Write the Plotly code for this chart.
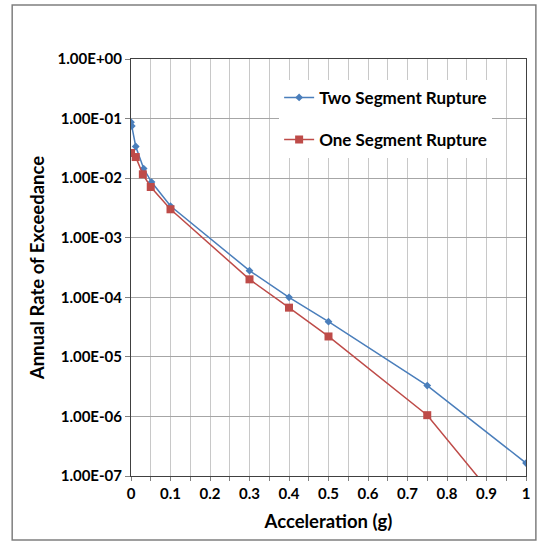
import plotly.graph_objects as go

# Hazard curves: annual rate of exceedance vs. peak ground acceleration
two_seg_accel = [0.0, 0.002, 0.012, 0.032, 0.052, 0.1, 0.3, 0.4, 0.5, 0.75, 1.0]
two_seg_rate = [0.087, 0.075, 0.034, 0.0145, 0.0086, 0.0034, 2.8e-4, 1.0e-4, 3.9e-5, 3.3e-6, 1.65e-7]

one_seg_accel = [0.0, 0.012, 0.03, 0.05, 0.1, 0.3, 0.4, 0.5, 0.75, 1.0]
one_seg_rate = [0.0264, 0.0226, 0.0116, 0.0071, 0.0030, 2.0e-4, 6.7e-5, 2.2e-5, 1.05e-6, 1.0e-8]

y_tick_vals = [1e0, 1e-1, 1e-2, 1e-3, 1e-4, 1e-5, 1e-6, 1e-7]
y_tick_text = ["1.00E+00", "1.00E-01", "1.00E-02", "1.00E-03",
               "1.00E-04", "1.00E-05", "1.00E-06", "1.00E-07"]
x_tick_vals = [i * 0.05 for i in range(21)]
x_tick_text = [("0" if i == 0 else ("1" if i == 20 else f"{i*0.05:.1f}")) if i % 2 == 0 else ""
               for i in range(21)]

BLUE = "#4A7EBB"
RED = "#BE4B48"
FONT = "Lato"

fig = go.Figure()
fig.add_trace(go.Scatter(
    x=two_seg_accel, y=two_seg_rate, mode="lines+markers",
    name="Two Segment Rupture", legendgroup="two",
    line=dict(color=BLUE, width=1.5),
    marker=dict(symbol="diamond", size=6, color=BLUE),
))
fig.add_trace(go.Scatter(
    x=one_seg_accel, y=one_seg_rate, mode="lines+markers",
    name="One Segment Rupture", legendgroup="one",
    line=dict(color=RED, width=1.5),
    marker=dict(symbol="square", size=8, color=RED),
))

fig.update_layout(
    width=542, height=549,
    margin=dict(l=131, r=12, t=59, b=73),
    paper_bgcolor="white", plot_bgcolor="white",
    font=dict(family=FONT, color="black"),
    showlegend=True,
    legend=dict(
        x=0.375, y=0.95, xanchor="left", yanchor="top",
        bgcolor="white", font=dict(family=FONT, size=17, color="black", weight="bold"),
        tracegroupgap=17, itemwidth=30, traceorder="grouped",
    ),
    xaxis=dict(
        range=[0, 1], tickvals=x_tick_vals, ticktext=x_tick_text,
        showgrid=True, gridcolor="#c8c8c8", gridwidth=1,
        ticks="outside", ticklen=4, tickcolor="#808080",
        showline=True, linecolor="#404040", linewidth=1, mirror=True,
        tickfont=dict(family=FONT, size=15, weight="bold"),
        title=dict(text="Acceleration (g)", font=dict(family=FONT, size=18.5, weight="bold"),
                   standoff=14),
        zeroline=False,
    ),
    yaxis=dict(
        type="log", range=[-7, 0], tickvals=y_tick_vals, ticktext=y_tick_text,
        showgrid=True, gridcolor="#a6a6a6", gridwidth=1,
        ticks="outside", ticklen=5, tickcolor="#808080",
        showline=True, linecolor="#404040", linewidth=1, mirror=True,
        tickfont=dict(family=FONT, size=15, weight="bold"),
        title=dict(text="Annual Rate of Exceedance", font=dict(family=FONT, size=18.5, weight="bold"),
                   standoff=8),
        zeroline=False,
    ),
    shapes=[dict(
        type="rect", xref="paper", yref="paper",
        x0=-0.3008, x1=1.025, y0=-0.1535, y1=1.1295,
        line=dict(color="#7f7f7f", width=1.5), fillcolor="rgba(0,0,0,0)",
    )],
)

fig.write_html("out.html")
